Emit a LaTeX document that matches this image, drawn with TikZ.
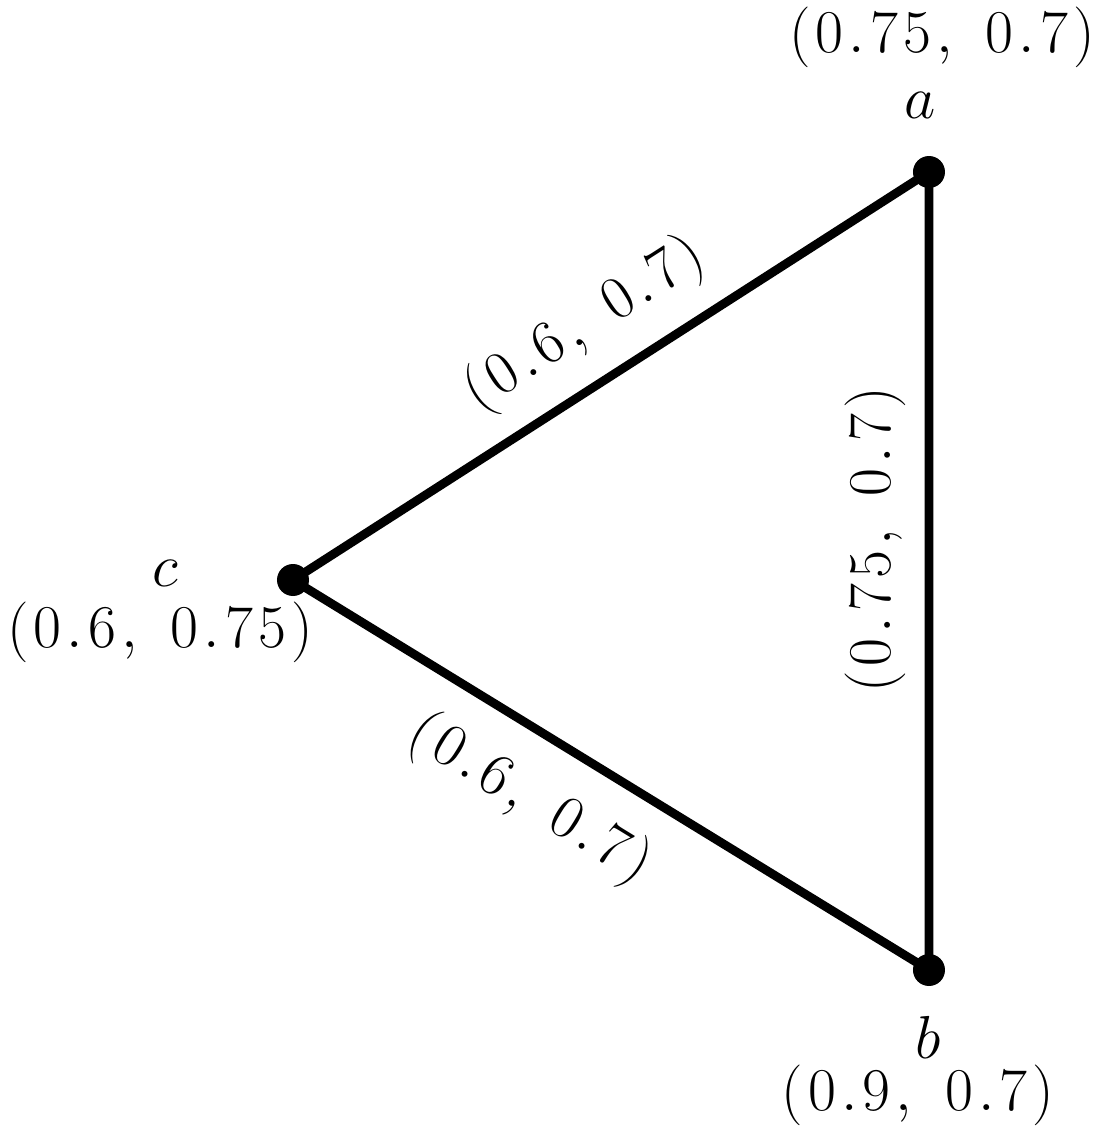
\documentclass[tikz,border=0pt]{standalone}
\newcommand\lsp{\mkern1.5mu}
\begin{document}
\begin{tikzpicture}[
  vtx/.style={circle,fill=black,inner sep=0pt,minimum size=0.32cm},
  lbl/.style={font=\fontsize{17}{20}\selectfont,inner sep=0pt},
  edge/.style={line width=2.5pt}]
\useasboundingbox (0,0) rectangle (11.10,11.33);
\node[vtx] (a) at (9.29,9.61) {};
\node[vtx] (b) at (9.29,1.63) {};
\node[vtx] (c) at (2.93,5.53) {};
\draw[edge] (a.center) -- (b.center) -- (c.center) -- cycle;
\node[lbl] (la) at (9.20,10.28) {$a$};
\node[lbl] (pa) at (9.42,10.96) {$(\lsp0\lsp.\lsp7\lsp5\lsp,\ \lsp0\lsp.\lsp7\lsp)$};
\node[lbl] (lb) at (9.28,0.96) {$b$};
\node[lbl] (pb) at (9.18,0.38) {$(\lsp0\lsp.\lsp9\lsp,\ \lsp0\lsp.\lsp7\lsp)$};
\node[lbl] (lc) at (1.65,5.60) {$c$};
\node[lbl] (pc) at (1.60,5.01) {$(\lsp0\lsp.\lsp6\lsp,\ \lsp0\lsp.\lsp7\lsp5\lsp)$};
\node[lbl,rotate=32.7] (eac) at (5.85,8.08) {$(\lsp0\lsp.\lsp6\lsp,\ \lsp0\lsp.\lsp7\lsp)$};
\node[lbl,rotate=-31.5] (ecb) at (5.30,3.33) {$(\lsp0\lsp.\lsp6\lsp,\ \lsp0\lsp.\lsp7\lsp)$};
\node[lbl,rotate=90] (eab) at (8.75,5.93) {$(\lsp0\lsp.\lsp7\lsp5\lsp,\ \lsp0\lsp.\lsp7\lsp)$};
\end{tikzpicture}
\end{document}
